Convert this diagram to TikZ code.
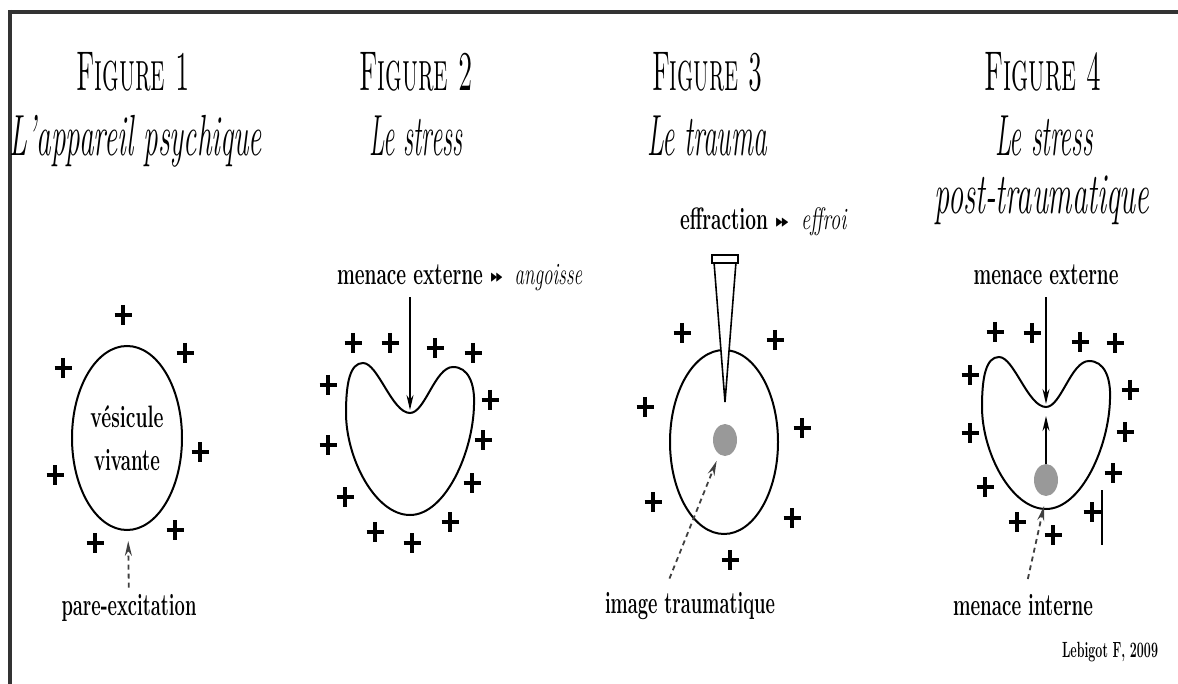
\documentclass[tikz,border=0pt]{standalone}
\usepackage{amssymb}
\usepackage{graphicx}
\usetikzlibrary{shapes.geometric, arrows.meta}
\tikzstyle{arrow} = [line width=1.8pt, -{Stealth[length=15pt,width=7pt]}]
\tikzstyle{pointille} = [arrow, black!75, dash pattern=on 5pt off 4pt]
\tikzstyle{croix} = [line width=3.5pt]
\tikzstyle{contour} = [line width=2pt]
\tikzstyle{cadre} = [line width=4.5pt, black!80]
\tikzstyle{titre} = [anchor=base, font=\fontsize{56}{60}\selectfont\scshape]
\tikzstyle{soustitre} = [anchor=base, font=\fontsize{58}{62}\selectfont\itshape]
\tikzstyle{legende} = [anchor=base, inner sep=2pt, font=\fontsize{31}{34}\selectfont\bfseries]
\tikzstyle{bulle} = [ellipse, draw, contour, inner sep=0pt, minimum width=110pt, minimum height=184pt]
\tikzstyle{tache} = [ellipse, fill=black!40, inner sep=0pt, minimum width=24pt, minimum height=32pt]
\def\sq#1#2{\resizebox{#1pt}{\height}{#2}}
\def\croix(#1,#2){\draw[croix] (#1,#2) ++(-8.5,0) -- ++(17,0) (#1,#2) ++(0,-10) -- ++(0,20);}
\def\fleches{\raisebox{0.12em}{\scalebox{0.5}{$\blacktriangleright\mkern-5mu\blacktriangleright$}}}
\tikzset{rein/.pic={\draw[contour] (0,0) .. controls (15,0) and (25,-46) .. (43,-46)
  .. controls (58,-46) and (65,-30) .. (64,-8) .. controls (63,40) and (35,102) .. (0,102)
  .. controls (-35,102) and (-64,45) .. (-64,0) .. controls (-64,-30) and (-60,-50) .. (-47,-50)
  .. controls (-32,-50) and (-18,0) .. (0,0) -- cycle;}}

\begin{document}
\begin{tikzpicture}[x=1pt, y=-1pt]
\useasboundingbox (0,0) rectangle (1178,684);
\draw[cadre] (8,12) -- (1178,12);
\draw[cadre] (10,10) -- (10,684);

% figure 1
\node (t1) [titre] at (133,91) {\sq{113}{Figure 1}};
\node (s1) [soustitre] at (136,156) {\sq{252}{L'appareil psychique}};
\node (ves1) [bulle, align=center, font=\fontsize{31}{43}\selectfont\bfseries] at (127,438) {\sq{73}{vésicule}\\\sq{66}{vivante}};
\node (pe1) [legende] at (129,615) {\sq{135}{pare-excitation}};
\draw [pointille, shorten <=4pt, shorten >=10pt] (pe1) -- (ves1);
\croix(123,315) \croix(63,368) \croix(185,353) \croix(55,475)
\croix(200,452) \croix(95,543) \croix(175,530)

% figure 2
\node (t2) [titre] at (416,91) {\sq{113}{Figure 2}};
\node (s2) [soustitre] at (416,156) {\sq{93}{Le stress}};
\node (me2) [legende] at (410,285) {\sq{146}{menace externe}};
\node (ang2) [legende, anchor=base west, xshift=3pt] at (me2.base east) {\sq{92}{\fleches\hspace{0.6em}\textit{\mdseries angoisse}}};
\pic at (410,413) {rein};
\coordinate (creux2) at (410,410);
\draw [arrow, shorten <=10pt] (me2) -- (creux2);
\croix(353,343) \croix(390,343) \croix(435,348) \croix(473,353)
\croix(328,385) \croix(490,400) \croix(328,445) \croix(483,440)
\croix(345,497) \croix(472,483) \croix(375,532) \croix(450,522) \croix(412,543)

% figure 3
\node (t3) [titre] at (707,91) {\sq{110}{Figure 3}};
\node (s3) [soustitre] at (707,156) {\sq{120}{Le trauma}};
\node (ef3) [legende] at (724,230) {\sq{88}{effraction}};
\node (eff3) [legende, anchor=base west, xshift=3pt] at (ef3.base east) {\sq{72}{\fleches\hspace{0.6em}\textit{\mdseries effroi}}};
\node (c3) [bulle, minimum width=108pt] at (724,442) {};
\draw[line width=1.6pt, fill=white] (714,262) -- (736,262) -- (725,402) -- cycle;
\draw[line width=1.8pt, fill=white] (712,255) rectangle (738,263);
\node (img3) [tache] at (725,440) {};
\node (it3) [legende] at (690,613) {\sq{170}{image traumatique}};
\draw [pointille, shorten <=12pt, shorten >=7pt] ([xshift=-25pt]it3.north) -- (img3);
\croix(682,333) \croix(775,340) \croix(645,407) \croix(802,428)
\croix(653,502) \croix(792,518) \croix(730,560)

% figure 4
\node (t4) [titre] at (1043,91) {\sq{117}{Figure 4}};
\node (s4) [soustitre] at (1044,156) {\sq{98}{Le stress}};
\node (p4) [soustitre] at (1042,214) {\sq{215}{post-traumatique}};
\node (me4) [legende] at (1046,285) {\sq{145}{menace externe}};
\pic at (1046,407) {rein};
\coordinate (creux4) at (1046,404);
\coordinate (fond4) at (1044,506);
\node (img4) [tache] at (1046,480) {};
\draw [arrow, shorten <=10pt] (me4) -- (creux4);
\draw [arrow, shorten >=12pt] (img4) -- (creux4);
\node (mi4) [legende] at (1023,615) {\sq{140}{menace interne}};
\draw [pointille, shorten <=13pt] ([xshift=2pt]mi4.north) -- (fond4);
\draw[contour] (1102,490) -- (1102,545);
\croix(995,332) \croix(1032,333) \croix(1080,342) \croix(1115,343)
\croix(970,375) \croix(1130,390) \croix(970,433) \croix(1125,432)
\croix(985,487) \croix(1113,473) \croix(1017,522) \croix(1053,535) \croix(1092,512)

\node (src) [anchor=base, font=\fontsize{22}{24}\selectfont\bfseries] at (1110,657) {\sq{96}{Lebigot F, 2009}};
\end{tikzpicture}
\end{document}
